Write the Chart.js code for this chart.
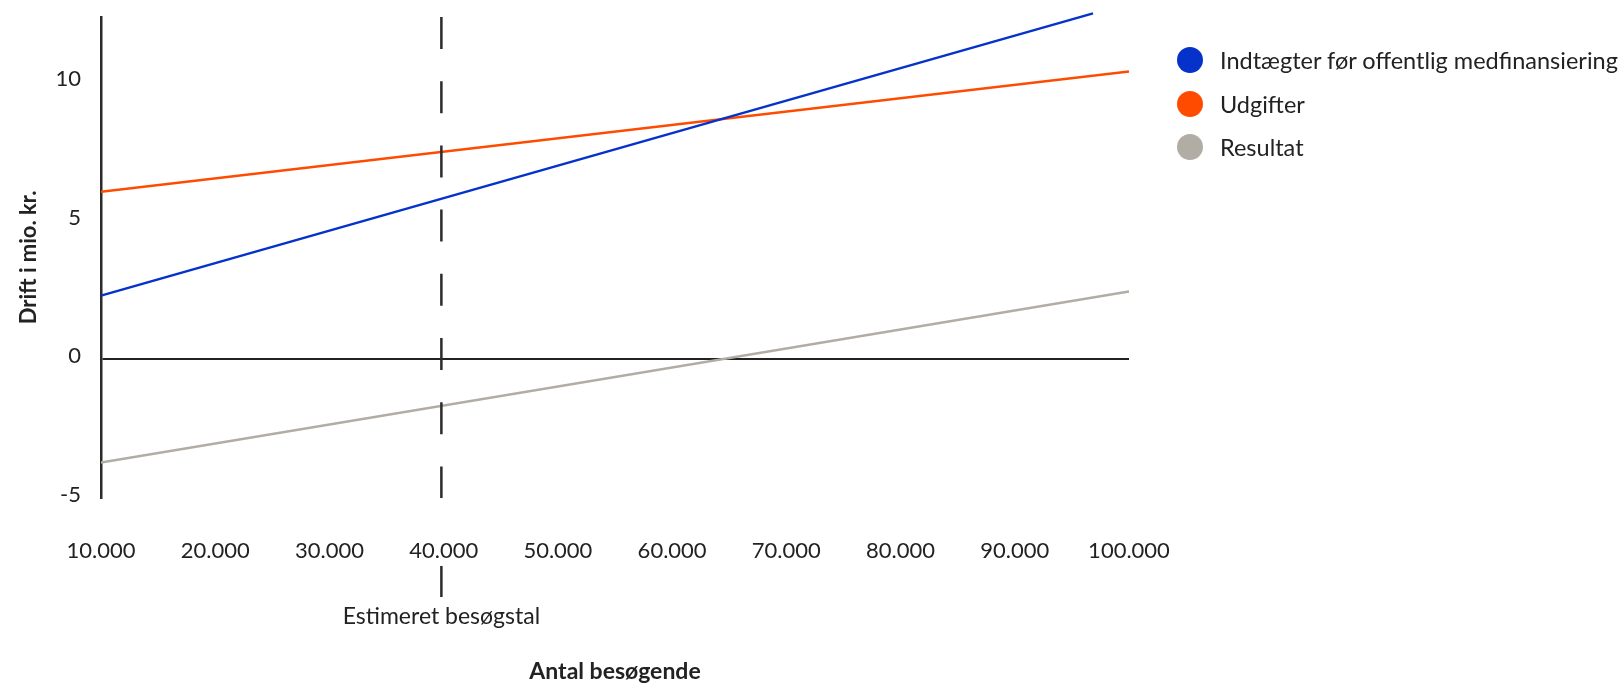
<!DOCTYPE html>
<html lang="da">
<head>
<meta charset="utf-8">
<title>Drift i mio. kr.</title>
<script src="https://cdn.jsdelivr.net/npm/chart.js@4.4.1/dist/chart.umd.min.js"></script>
<style>
    html, body { margin: 0; padding: 0; background: #fff; }
    #wrap { position: relative; width: 1621px; height: 685px; }
    #legend {
        position: absolute; left: 1177px; top: 47px;
        margin: 0; padding: 0; list-style: none;
        font-family: Lato, sans-serif; font-size: 23.5px; color: #222;
    }
    #legend li { display: flex; align-items: center; height: 26px; margin-bottom: 17.5px; white-space: nowrap; }
    #legend .dot { width: 26px; height: 26px; border-radius: 50%; margin-right: 17px; flex: none; }
</style>
</head>
<body>
<div id="wrap">
    <canvas id="breakEvenChart" width="1621" height="685"></canvas>
    <ul id="legend"></ul>
</div>
<script>
// Data (visitors -> mio. kr.)
const seriesNames = ["Indtægter før offentlig medfinansiering", "Udgifter", "Resultat"];
const seriesColors = ["#0432cb", "#ff4b00", "#b1ada5"];

const incomeVisitors = [10000, 96850];
const incomeValues = [2.3, 12.48];
const costVisitors = [10000, 100000];
const costValues = [6.05, 10.38];
const resultVisitors = [10000, 100000];
const resultValues = [-3.72, 2.45];

const xTicks = [10000, 20000, 30000, 40000, 50000, 60000, 70000, 80000, 90000, 100000];
const yTicks = [-5, 0, 5, 10];
const estimateVisitors = 39800;
const estimateLabel = "Estimeret besøgstal";

const toPoints = (xs, ys) => xs.map((x, i) => ({ x: x, y: ys[i] }));
const formatThousands = v => String(v).replace(/\B(?=(\d{3})+(?!\d))/g, ".");

Chart.defaults.font.family = "Lato, sans-serif";
Chart.defaults.color = "#222";

// dashed "estimated visitors" marker + label under the x axis
const estimatePlugin = {
    id: "estimateMarker",
    afterDatasetsDraw(chart) {
        const { ctx, chartArea, scales } = chart;
        const px = scales.x.getPixelForValue(estimateVisitors);
        ctx.save();
        ctx.strokeStyle = "#2b2b2b";
        ctx.lineWidth = 2.5;
        ctx.setLineDash([32, 32.2]);
        ctx.beginPath();
        ctx.moveTo(px, chartArea.top);
        ctx.lineTo(px, chartArea.bottom);
        ctx.stroke();

        ctx.setLineDash([]);
        ctx.beginPath();
        ctx.moveTo(px, chartArea.bottom + 68);
        ctx.lineTo(px, chartArea.bottom + 99);
        ctx.stroke();

        ctx.fillStyle = "#222";
        ctx.font = "23px Lato, sans-serif";
        ctx.textAlign = "center";
        ctx.textBaseline = "middle";
        ctx.fillText(estimateLabel, px, chartArea.bottom + 119);
        ctx.restore();
    }
};

const lineStyle = { borderWidth: 2.5, pointRadius: 0, pointHoverRadius: 0, tension: 0, fill: false };

new Chart(document.getElementById("breakEvenChart"), {
    type: "line",
    data: {
        datasets: [
            { label: seriesNames[0], data: toPoints(incomeVisitors, incomeValues), borderColor: seriesColors[0], backgroundColor: seriesColors[0], clip: false, ...lineStyle },
            { label: seriesNames[1], data: toPoints(costVisitors, costValues), borderColor: seriesColors[1], backgroundColor: seriesColors[1], ...lineStyle },
            { label: seriesNames[2], data: toPoints(resultVisitors, resultValues), borderColor: seriesColors[2], backgroundColor: seriesColors[2], ...lineStyle }
        ]
    },
    options: {
        responsive: false,
        animation: false,
        events: [],
        layout: { padding: { top: 17, right: 492, bottom: 0, left: 0 } },
        plugins: {
            legend: { display: false },
            tooltip: { enabled: false }
        },
        scales: {
            x: {
                type: "linear",
                min: 10000,
                max: 100000,
                afterBuildTicks: scale => { scale.ticks = xTicks.map(v => ({ value: v })); },
                afterFit: scale => { scale.height = 187; },
                grid: { display: false, drawTicks: false },
                border: { display: false },
                ticks: {
                    padding: 40,
                    autoSkip: false,
                    maxRotation: 0,
                    font: { size: 22 },
                    color: "#222",
                    callback: v => formatThousands(v)
                },
                title: {
                    display: true,
                    text: "Antal besøgende",
                    font: { size: 23, weight: "bold" },
                    color: "#222",
                    padding: { top: 0, bottom: 0 }
                }
            },
            y: {
                min: -5,
                max: 12.35,
                afterBuildTicks: scale => { scale.ticks = yTicks.map(v => ({ value: v })); },
                afterFit: scale => {
                    scale.width = 101;
                    scale.paddingTop = 0;
                    scale.paddingBottom = 0;
                },
                grid: {
                    drawTicks: false,
                    color: c => (c.tick && c.tick.value === 0 ? "#222" : "rgba(0,0,0,0)"),
                    lineWidth: 2
                },
                border: { display: true, color: "#2b2b2b", width: 2.5 },
                ticks: {
                    padding: 20,
                    labelOffset: -3,
                    font: { size: 22 },
                    color: "#222"
                },
                title: {
                    display: true,
                    text: "Drift i mio. kr.",
                    font: { size: 22, weight: "bold" },
                    color: "#222",
                    padding: { top: 16, bottom: 0 }
                }
            }
        }
    },
    plugins: [estimatePlugin]
});

// legend as plain html, built from the same series arrays
const legendEl = document.getElementById("legend");
seriesNames.forEach((name, i) => {
    const li = document.createElement("li");
    const dot = document.createElement("span");
    dot.className = "dot";
    dot.style.background = seriesColors[i];
    li.appendChild(dot);
    li.appendChild(document.createTextNode(name));
    legendEl.appendChild(li);
});
</script>
</body>
</html>
